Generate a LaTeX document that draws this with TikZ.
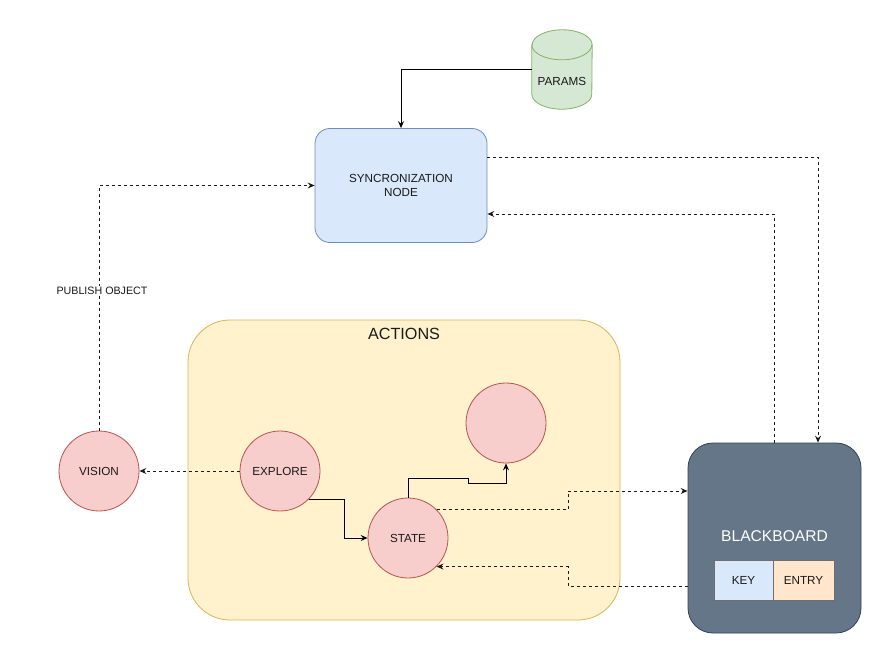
\documentclass[tikz,border=0pt]{standalone}
\usepackage{fontspec}
\setmainfont{Liberation Sans}
\usetikzlibrary{arrows.meta,calc}
\definecolor{bluefill}{HTML}{DAE8FC}
\definecolor{blueline}{HTML}{6C8EBF}
\definecolor{greenfill}{HTML}{D5E8D4}
\definecolor{greenline}{HTML}{82B366}
\definecolor{yellowfill}{HTML}{FFF2CC}
\definecolor{yellowline}{HTML}{D6B656}
\definecolor{redfill}{HTML}{F8CECC}
\definecolor{redline}{HTML}{B85450}
\definecolor{orangefill}{HTML}{FFE6CC}
\definecolor{slatefill}{HTML}{647687}
\definecolor{slateline}{HTML}{314354}
\definecolor{cellline}{HTML}{6E6E6E}
\definecolor{ink}{HTML}{1A1A1A}
\begin{document}
\begin{tikzpicture}[x=1pt,y=-1pt,
  every node/.style={font=\fontsize{11.7}{13.5}\selectfont, inner sep=0pt, text=ink},
  syncbox/.style={rectangle, rounded corners=15pt, draw=blueline, fill=bluefill,
    line width=0.8pt, minimum width=172pt, minimum height=114pt, align=center},
  group/.style={rectangle, rounded corners=42pt, draw=yellowline, fill=yellowfill,
    line width=0.8pt, minimum width=432pt, minimum height=300pt},
  actor/.style={circle, draw=redline, fill=redfill, line width=0.8pt, minimum size=80pt},
  board/.style={rectangle, rounded corners=25pt, draw=slateline, fill=slatefill,
    line width=0.8pt, minimum width=173pt, minimum height=190pt},
  cell/.style={rectangle, draw=cellline, line width=0.6pt, minimum height=40pt},
  arr/.style={-{Stealth[length=7pt,width=6pt,inset=2.5pt]}, line width=0.9pt, draw=black},
  darr/.style={arr, dash pattern=on 3pt off 3pt, draw=ink},
]
\useasboundingbox (0,0) rectangle (891,650);

% action group
\node[group] (actions) at (404,470) {};
\node[font=\fontsize{16.2}{19}\selectfont] (actionsTitle) at (404,334) {ACTIONS};

% parameter store (cylinder)
\node[minimum width=60pt, minimum height=79pt] (params) at (562,69.5) {};
\path[draw=greenline, fill=greenfill, line width=0.8pt]
  ($(params.north west)+(0,15)$) -- ($(params.south west)+(0,-15)$)
  arc[start angle=180, end angle=360, x radius=30pt, y radius=15pt]
  -- ($(params.north east)+(0,15)$)
  arc[start angle=0, end angle=180, x radius=30pt, y radius=15pt] -- cycle;
\draw[greenline, line width=0.8pt] ($(params.north west)+(0,15)$)
  arc[start angle=180, end angle=360, x radius=30pt, y radius=15pt];
\node (paramsText) at (562,81) {PARAMS};

% synchronization node
\node[syncbox] (sync) at (401,185.5) {SYNCRONIZATION\\NODE};

% agents
\node[actor] (vision) at (99,471) {VISION};
\node[actor] (explore) at (280,471) {EXPLORE};
\node[actor] (state) at (408,538) {STATE};
\node[actor] (target) at (506,423) {};

% blackboard
\node[board] (bb) at (774.5,538) {};
\node[font=\fontsize{15.6}{18}\selectfont, text=white] (bbText) at (774.5,536) {BLACKBOARD};
\node[cell, fill=bluefill, minimum width=59pt] (key) at (743.5,580) {KEY};
\node[cell, fill=orangefill, minimum width=61pt] (entry) at (803.5,580) {ENTRY};

% routing helpers
\coordinate (colSync) at (818,0);
\coordinate (rowSyncOut) at (0,157);
\coordinate (rowSyncIn) at (0,214);
\coordinate (colMid) at (568,0);
\coordinate (rowBbIn) at (0,491);
\coordinate (rowBbOut) at (0,586);
\coordinate (colExp) at (344,0);

% connectors
\draw[arr] (params.west) -| (sync.north);
\draw[darr] (sync.east |- rowSyncOut) -| (bb.north -| colSync);
\draw[darr] (bb.north) |- (sync.east |- rowSyncIn);
\draw[darr] (vision.north) |- (sync.west);
\node[fill=white, inner sep=1pt, font=\fontsize{10.7}{13}\selectfont] (publish) at (102,291) {PUBLISH OBJECT};
\draw[darr] (explore.west) -- (vision.east);
\draw[arr] (explore.-45) -| (state.west -| colExp) -- (state.west);
\draw[arr] (state.north) |- (468,478) -- (468,483) -| (target.south);
\draw[darr] (state.45) -| (colMid |- rowBbIn) -- (bb.west |- rowBbIn);
\draw[darr] (bb.west |- rowBbOut) -| (state.-45 -| colMid) -- (state.-45);
\end{tikzpicture}
\end{document}
